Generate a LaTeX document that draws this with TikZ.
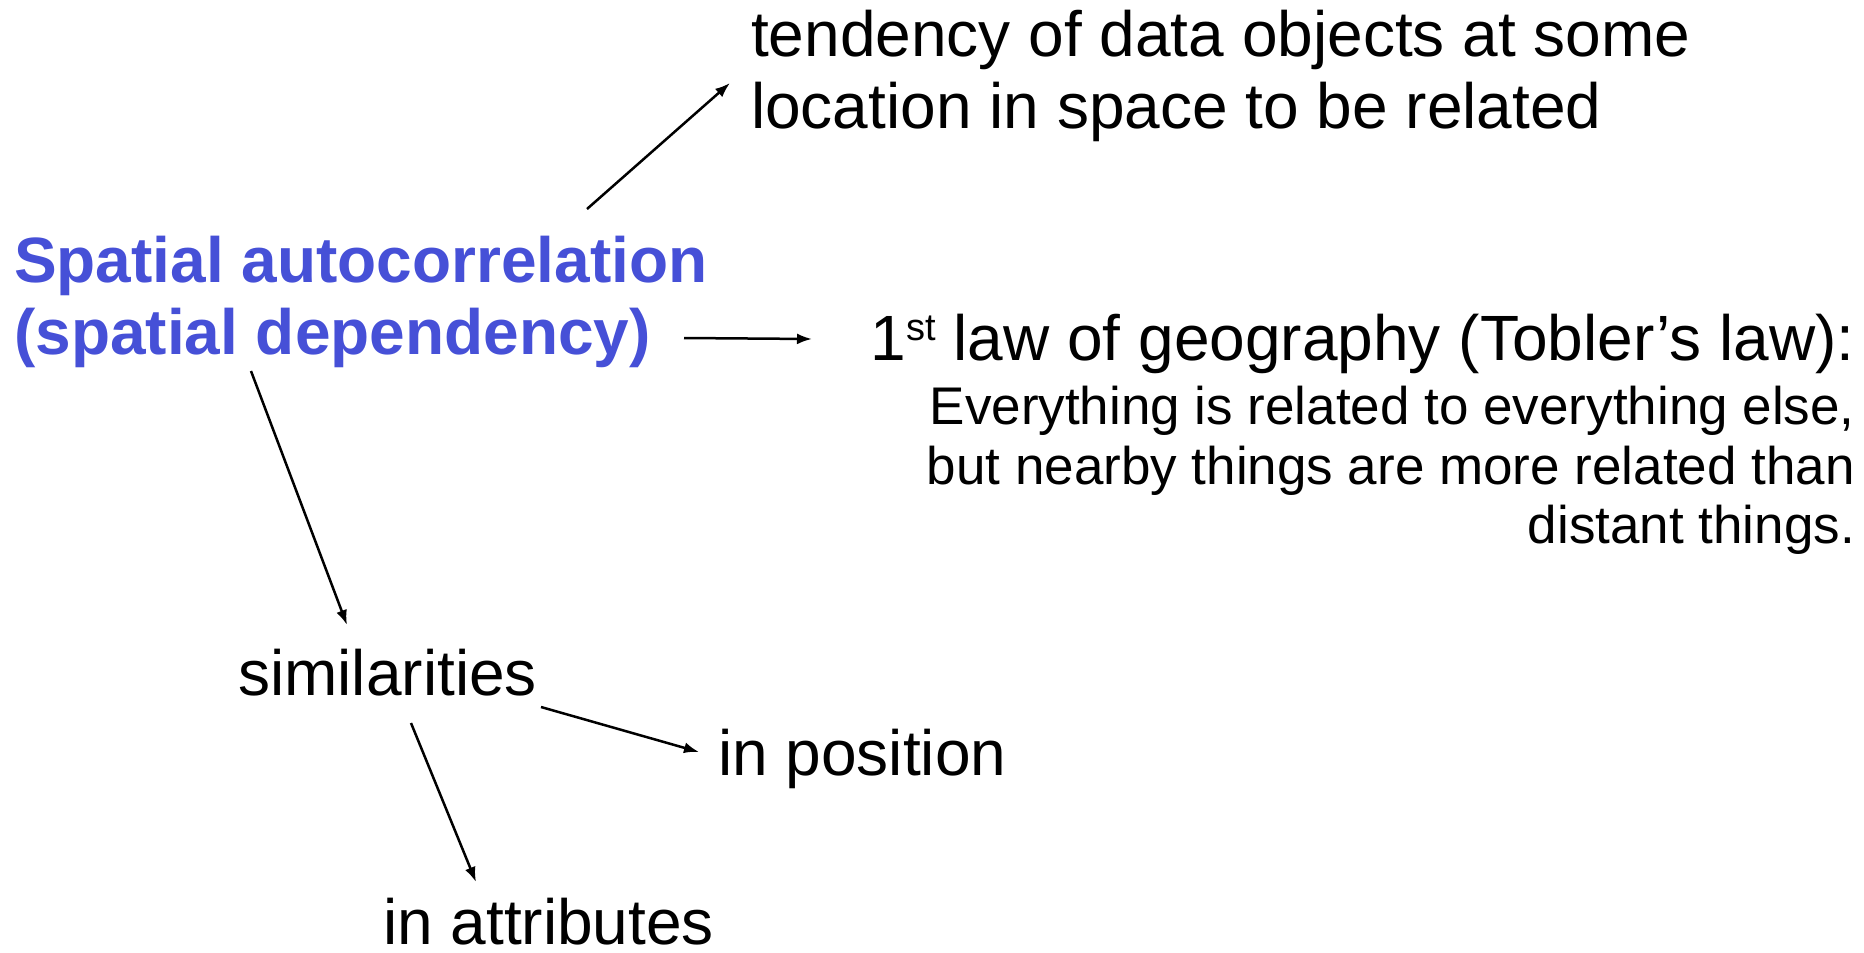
\documentclass[tikz,border=0pt]{standalone}
\usepackage{fontspec}
\setmainfont{Liberation Sans}
\usetikzlibrary{arrows.meta}
\definecolor{titleblue}{RGB}{70,80,215}
\newcommand{\supst}{\raisebox{20pt}{\fontsize{38}{38}\selectfont st}}
\begin{document}
\begin{tikzpicture}[x=1pt,y=-1pt,
  big/.style={font=\fontsize{64}{72}\selectfont, inner sep=0pt},
  small/.style={font=\fontsize{53}{60}\selectfont, inner sep=0pt},
  title/.style={font=\fontsize{64}{72}\selectfont\bfseries, text=titleblue, inner sep=0pt},
  conn/.style={line width=2.5pt, -{Latex[length=15pt,width=11pt]}}]
\useasboundingbox (0,0) rectangle (1864,953);

% texts
\node[big, anchor=base west] (tend1) at (751,56) {tendency of data objects at some};
\node[big, anchor=base west] (tend2) at (751,128) {location in space to be related};
\node[title, anchor=base west] (sa1) at (14,282) {Spatial autocorrelation};
\node[title, anchor=base west] (sa2) at (14,354) {(spatial dependency)};
\node[big, anchor=base east] (law) at (1855,360) {1\supst\ law of geography (Tobler’s law):};
\node[small, anchor=base east] (law1) at (1855,424) {Everything is related to everything else,};
\node[small, anchor=base east] (law2) at (1855,484) {but nearby things are more related than};
\node[small, anchor=base east] (law3) at (1855,543) {distant things.};
\node[big, anchor=base west] (sim) at (238,695) {similarities};
\node[big, anchor=base west] (pos) at (718,775) {in position};
\node[big, anchor=base west, text depth=0pt] (attr) at (383,944) {in attributes};

% arrow ends
\coordinate (a1s) at (587,209); \coordinate (a1e) at (730,83);
\coordinate (a2s) at (684,338); \coordinate (a2e) at (812,339);
\coordinate (a3s) at (251,371); \coordinate (a3e) at (347,625);
\coordinate (a4s) at (541,707); \coordinate (a4e) at (699,752);
\coordinate (a5s) at (411,723); \coordinate (a5e) at (476,882);

\draw[conn] (a1s) -- (a1e);
\draw[conn] (a2s) -- (a2e);
\draw[conn] (a3s) -- (a3e);
\draw[conn] (a4s) -- (a4e);
\draw[conn] (a5s) -- (a5e);
\end{tikzpicture}
\end{document}
